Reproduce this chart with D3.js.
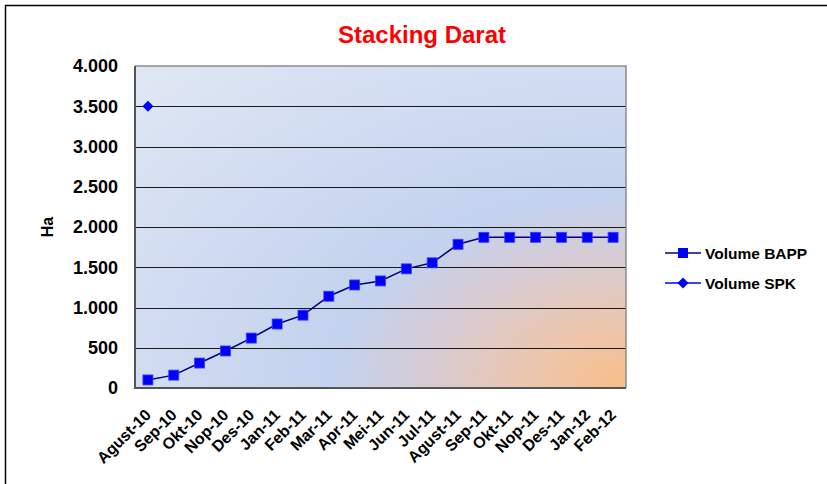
<!DOCTYPE html>
<meta charset="utf-8">
<style>
body { margin: 0; background: #fff; }
text { font-family: "Liberation Sans", Arial, sans-serif; font-weight: bold; }
.grid line { stroke: #1a1a1a; stroke-width: 1px; shape-rendering: crispEdges; }
</style>
<svg width="827" height="484"></svg>
<script src="https://cdnjs.cloudflare.com/ajax/libs/d3/7.8.5/d3.min.js"></script>
<script>

var months = ["Agust-10", "Sep-10", "Okt-10", "Nop-10", "Des-10", "Jan-11", "Feb-11", "Mar-11",
  "Apr-11", "Mei-11", "Jun-11", "Jul-11", "Agust-11", "Sep-11", "Okt-11", "Nop-11", "Des-11",
  "Jan-12", "Feb-12"];
var bapp = [100, 160, 310, 460, 620, 795, 905, 1140, 1280, 1330, 1480, 1555, 1785, 1872, 1872,
  1872, 1872, 1872, 1872];
var spk = [3500];
var yTicks = [0, 500, 1000, 1500, 2000, 2500, 3000, 3500, 4000];
var yTickLabels = ["0", "500", "1.000", "1.500", "2.000", "2.500", "3.000", "3.500", "4.000"];

var svg = d3.select("svg");
var pl = 135, pr = 626, pt = 66, pb = 388;

// outer frame (only top + left visible in the shot)
svg.append("line").attr("x1", 5).attr("x2", 827).attr("y1", 5.5).attr("y2", 5.5)
    .attr("stroke", "#000").attr("stroke-width", 1.5);
svg.append("line").attr("x1", 5.5).attr("x2", 5.5).attr("y1", 5).attr("y2", 484)
    .attr("stroke", "#000").attr("stroke-width", 1.5);

var defs = svg.append("defs");
var grad = defs.append("radialGradient").attr("id", "bg")
    .attr("cx", 1).attr("cy", 1).attr("r", 1.42).attr("fx", 1).attr("fy", 1);
[[0, "#f8bd86"], [0.12, "#eec5a8"], [0.28, "#d8cbd2"], [0.42, "#c3d2ee"], [1, "#e1e8f4"]]
  .forEach(function(s) {
    grad.append("stop").attr("offset", s[0]).attr("stop-color", s[1]);
  });

var x = d3.scaleBand().domain(months).range([pl, pr]);
var y = d3.scaleLinear().domain([0, 4000]).range([pb, pt]);

svg.append("rect")
    .attr("x", pl).attr("y", pt)
    .attr("width", pr - pl).attr("height", pb - pt)
    .attr("fill", "url(#bg)");

svg.append("g").attr("class", "grid")
  .selectAll("line")
  .data(yTicks.slice(1, -1))
  .enter().append("line")
    .attr("x1", pl).attr("x2", pr)
    .attr("y1", function(d) { return Math.round(y(d)) + 0.5; })
    .attr("y2", function(d) { return Math.round(y(d)) + 0.5; });

// plot border
svg.append("path")
    .attr("d", "M" + pl + "," + pt + "H" + pr + "V" + pb)
    .attr("fill", "none").attr("stroke", "#8c8c8c").attr("stroke-width", 1.5);
svg.append("path")
    .attr("d", "M" + pl + "," + pt + "V" + pb + "H" + pr)
    .attr("fill", "none").attr("stroke", "#555").attr("stroke-width", 2);

// y axis labels
var yAxis = d3.axisLeft(y).tickValues(yTicks).tickSize(0).tickPadding(17)
    .tickFormat(function(d, i) { return yTickLabels[i]; });
svg.append("g").attr("transform", "translate(" + pl + ",0)").call(yAxis)
    .call(function(g) { g.select(".domain").remove(); })
    .selectAll("text")
      .style("font-size", "18px").style("font-family", "Liberation Sans, Arial, sans-serif")
      .style("font-weight", "bold").attr("fill", "#000");

// x axis labels
var xAxis = d3.axisBottom(x).tickSize(0).tickPadding(0);
svg.append("g").attr("transform", "translate(0," + pb + ")").call(xAxis)
    .call(function(g) { g.select(".domain").remove(); })
    .selectAll("text")
      .style("font-size", "16px").style("font-family", "Liberation Sans, Arial, sans-serif")
      .style("font-weight", "bold").attr("fill", "#000")
      .attr("text-anchor", "end")
      .attr("y", 0).attr("dy", null)
      .attr("transform", "translate(4,28) rotate(-45)");

// y title
svg.append("text")
    .attr("transform", "translate(53," + ((pt + pb) / 2) + ") rotate(-90)")
    .attr("text-anchor", "middle")
    .style("font-size", "16px")
    .text("Ha");

// title
svg.append("text")
    .attr("x", 422).attr("y", 43)
    .attr("text-anchor", "middle")
    .attr("fill", "#ff0000")
    .style("font-size", "24px")
    .text("Stacking Darat");

// BAPP series
var cx = function(d, i) { return x(months[i]) + x.bandwidth() / 2; };
svg.append("path")
    .datum(bapp)
    .attr("fill", "none").attr("stroke", "#000080").attr("stroke-width", 1.5)
    .attr("d", d3.line().x(cx).y(function(d) { return y(d); }));

svg.selectAll("rect.bapp")
  .data(bapp)
  .enter().append("rect")
    .attr("class", "bapp")
    .attr("x", function(d, i) { return cx(d, i) - 5; })
    .attr("y", function(d) { return y(d) - 5; })
    .attr("width", 10).attr("height", 10)
    .attr("fill", "#0000ff").attr("stroke", "#3b3bff").attr("stroke-width", 0.8);

// SPK series
var diamond = "M0,-5.5L5.5,0L0,5.5L-5.5,0Z";
svg.selectAll("path.spk")
  .data(spk)
  .enter().append("path")
    .attr("class", "spk")
    .attr("transform", function(d, i) { return "translate(" + cx(d, i) + "," + y(d) + ")"; })
    .attr("d", diamond)
    .attr("fill", "#0000ff");

// legend
var legend = [["Volume BAPP", "#000080", "square"], ["Volume SPK", "#0000ff", "diamond"]];
var lg = svg.selectAll("g.legend")
  .data(legend)
  .enter().append("g")
    .attr("class", "legend")
    .attr("transform", function(d, i) { return "translate(665," + (253 + i * 30) + ")"; });
lg.append("line").attr("x1", 0).attr("x2", 36)
    .attr("stroke", function(d) { return d[1]; }).attr("stroke-width", 1.5);
lg.append("path")
    .attr("transform", "translate(18,0)")
    .attr("d", function(d) { return d[2] === "square" ? "M-5,-5H5V5H-5Z" : diamond; })
    .attr("fill", "#0000ff");
lg.append("text")
    .attr("x", 40).attr("dy", "0.36em")
    .style("font-size", "15.5px")
    .text(function(d) { return d[0]; });

</script>
